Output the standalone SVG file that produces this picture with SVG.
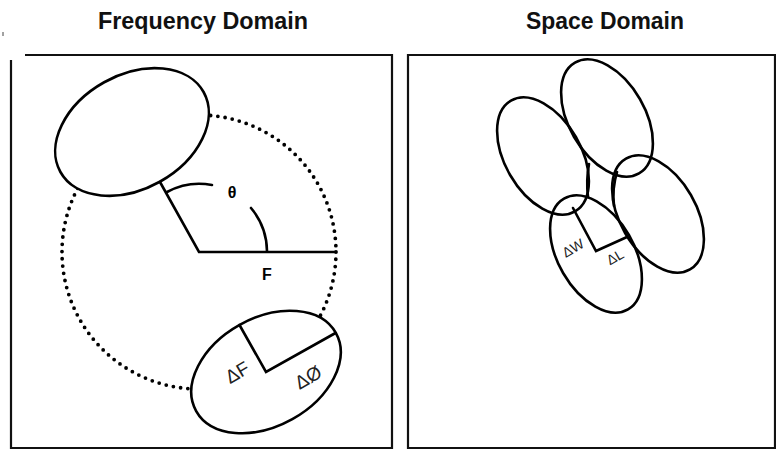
<svg xmlns="http://www.w3.org/2000/svg" width="776" height="450" viewBox="0 0 776 450">
<style>
.title{font-family:"Liberation Sans",Arial,sans-serif;font-weight:bold;font-size:23px;fill:#111;text-anchor:middle}
.frame{fill:none;stroke:#111;stroke-width:2.2}
.ell{fill:none;stroke:#000;stroke-width:2.6}
.ellw{fill:#fff;stroke:#000;stroke-width:2.6}
.ln{fill:none;stroke:#000;stroke-width:2.6;stroke-linecap:round;stroke-linejoin:miter}
.dot{fill:none;stroke:#000;stroke-width:3.8;stroke-linecap:round;stroke-dasharray:0 7.3}
.lbl{font-family:"Liberation Sans",Arial,sans-serif;fill:#222;text-anchor:middle}
.sym{font-family:"Liberation Sans",Arial,sans-serif;font-weight:bold;fill:#000;text-anchor:middle}
</style>
<rect width="776" height="450" fill="#fff"/>
<text class="title" x="203" y="29" textLength="210" lengthAdjust="spacingAndGlyphs">Frequency Domain</text>
<text class="title" x="605" y="29" textLength="158" lengthAdjust="spacingAndGlyphs">Space Domain</text>
<line x1="3" y1="32" x2="3" y2="36" stroke="#444" stroke-width="1"/>

<g id="frequency-frame">
<path class="frame" d="M25,55 H392 V448 H11 V60"/>
</g>
<g id="space-frame">
<path class="frame" d="M408,55 H775 V448 H408 Z"/>
</g>

<g id="frequency-domain">
<g id="dotted-circle"><circle class="dot" cx="199" cy="252" r="137"/></g>
<g id="top-ellipse"><ellipse class="ellw" cx="132" cy="132" rx="82" ry="57" transform="rotate(-29.2 132 132)"/></g>
<g id="bottom-ellipse"><ellipse class="ellw" cx="266" cy="372" rx="80" ry="54" transform="rotate(-29.2 266 372)"/></g>
<g id="connectors">
<path class="ln" d="M160,182 L199,252 L335,252"/>
<path class="ln" d="M167,192 A68,68 0 0 1 212,185"/>
<path class="ln" d="M251,208 A68,68 0 0 1 267,251"/>
<path class="ln" d="M239.5,325 L266,372 L335.5,333"/>
</g>
<text class="sym" x="232" y="198" font-size="16">θ</text>
<text class="lbl" x="267" y="280" font-size="16" font-weight="bold" style="fill:#000">F</text>
<text class="lbl" x="237" y="379" font-size="19" transform="rotate(-30 237 372)">ΔF</text>
<text class="lbl" x="308" y="384" font-size="19" transform="rotate(-30 308 377)">ΔØ</text>
</g>

<g id="space-domain">
<g id="sp-top"><ellipse class="ell" cx="607" cy="118" rx="38" ry="64" transform="rotate(-30 607 118)"/></g>
<g id="sp-left"><ellipse class="ell" cx="543" cy="156" rx="38" ry="64" transform="rotate(-30 543 156)"/></g>
<g id="sp-right"><ellipse class="ell" cx="658" cy="214" rx="38" ry="64" transform="rotate(-30 658 214)"/></g>
<g id="sp-bottom"><ellipse class="ell" cx="596" cy="254" rx="38" ry="64" transform="rotate(-30 596 254)"/></g>
<g id="sp-connectors">
<path class="ln" d="M589,164 Q586,180 588,197"/>
<path class="ln" d="M617,172 Q612,188 614,206"/>
<path class="ln" d="M573,208 L596,251 L627,237"/>
</g>
<text class="lbl" x="573" y="253" font-size="14" transform="rotate(-30 573 248)">ΔW</text>
<text class="lbl" x="615" y="262" font-size="14" transform="rotate(-30 615 257)">ΔL</text>
</g>
</svg>
